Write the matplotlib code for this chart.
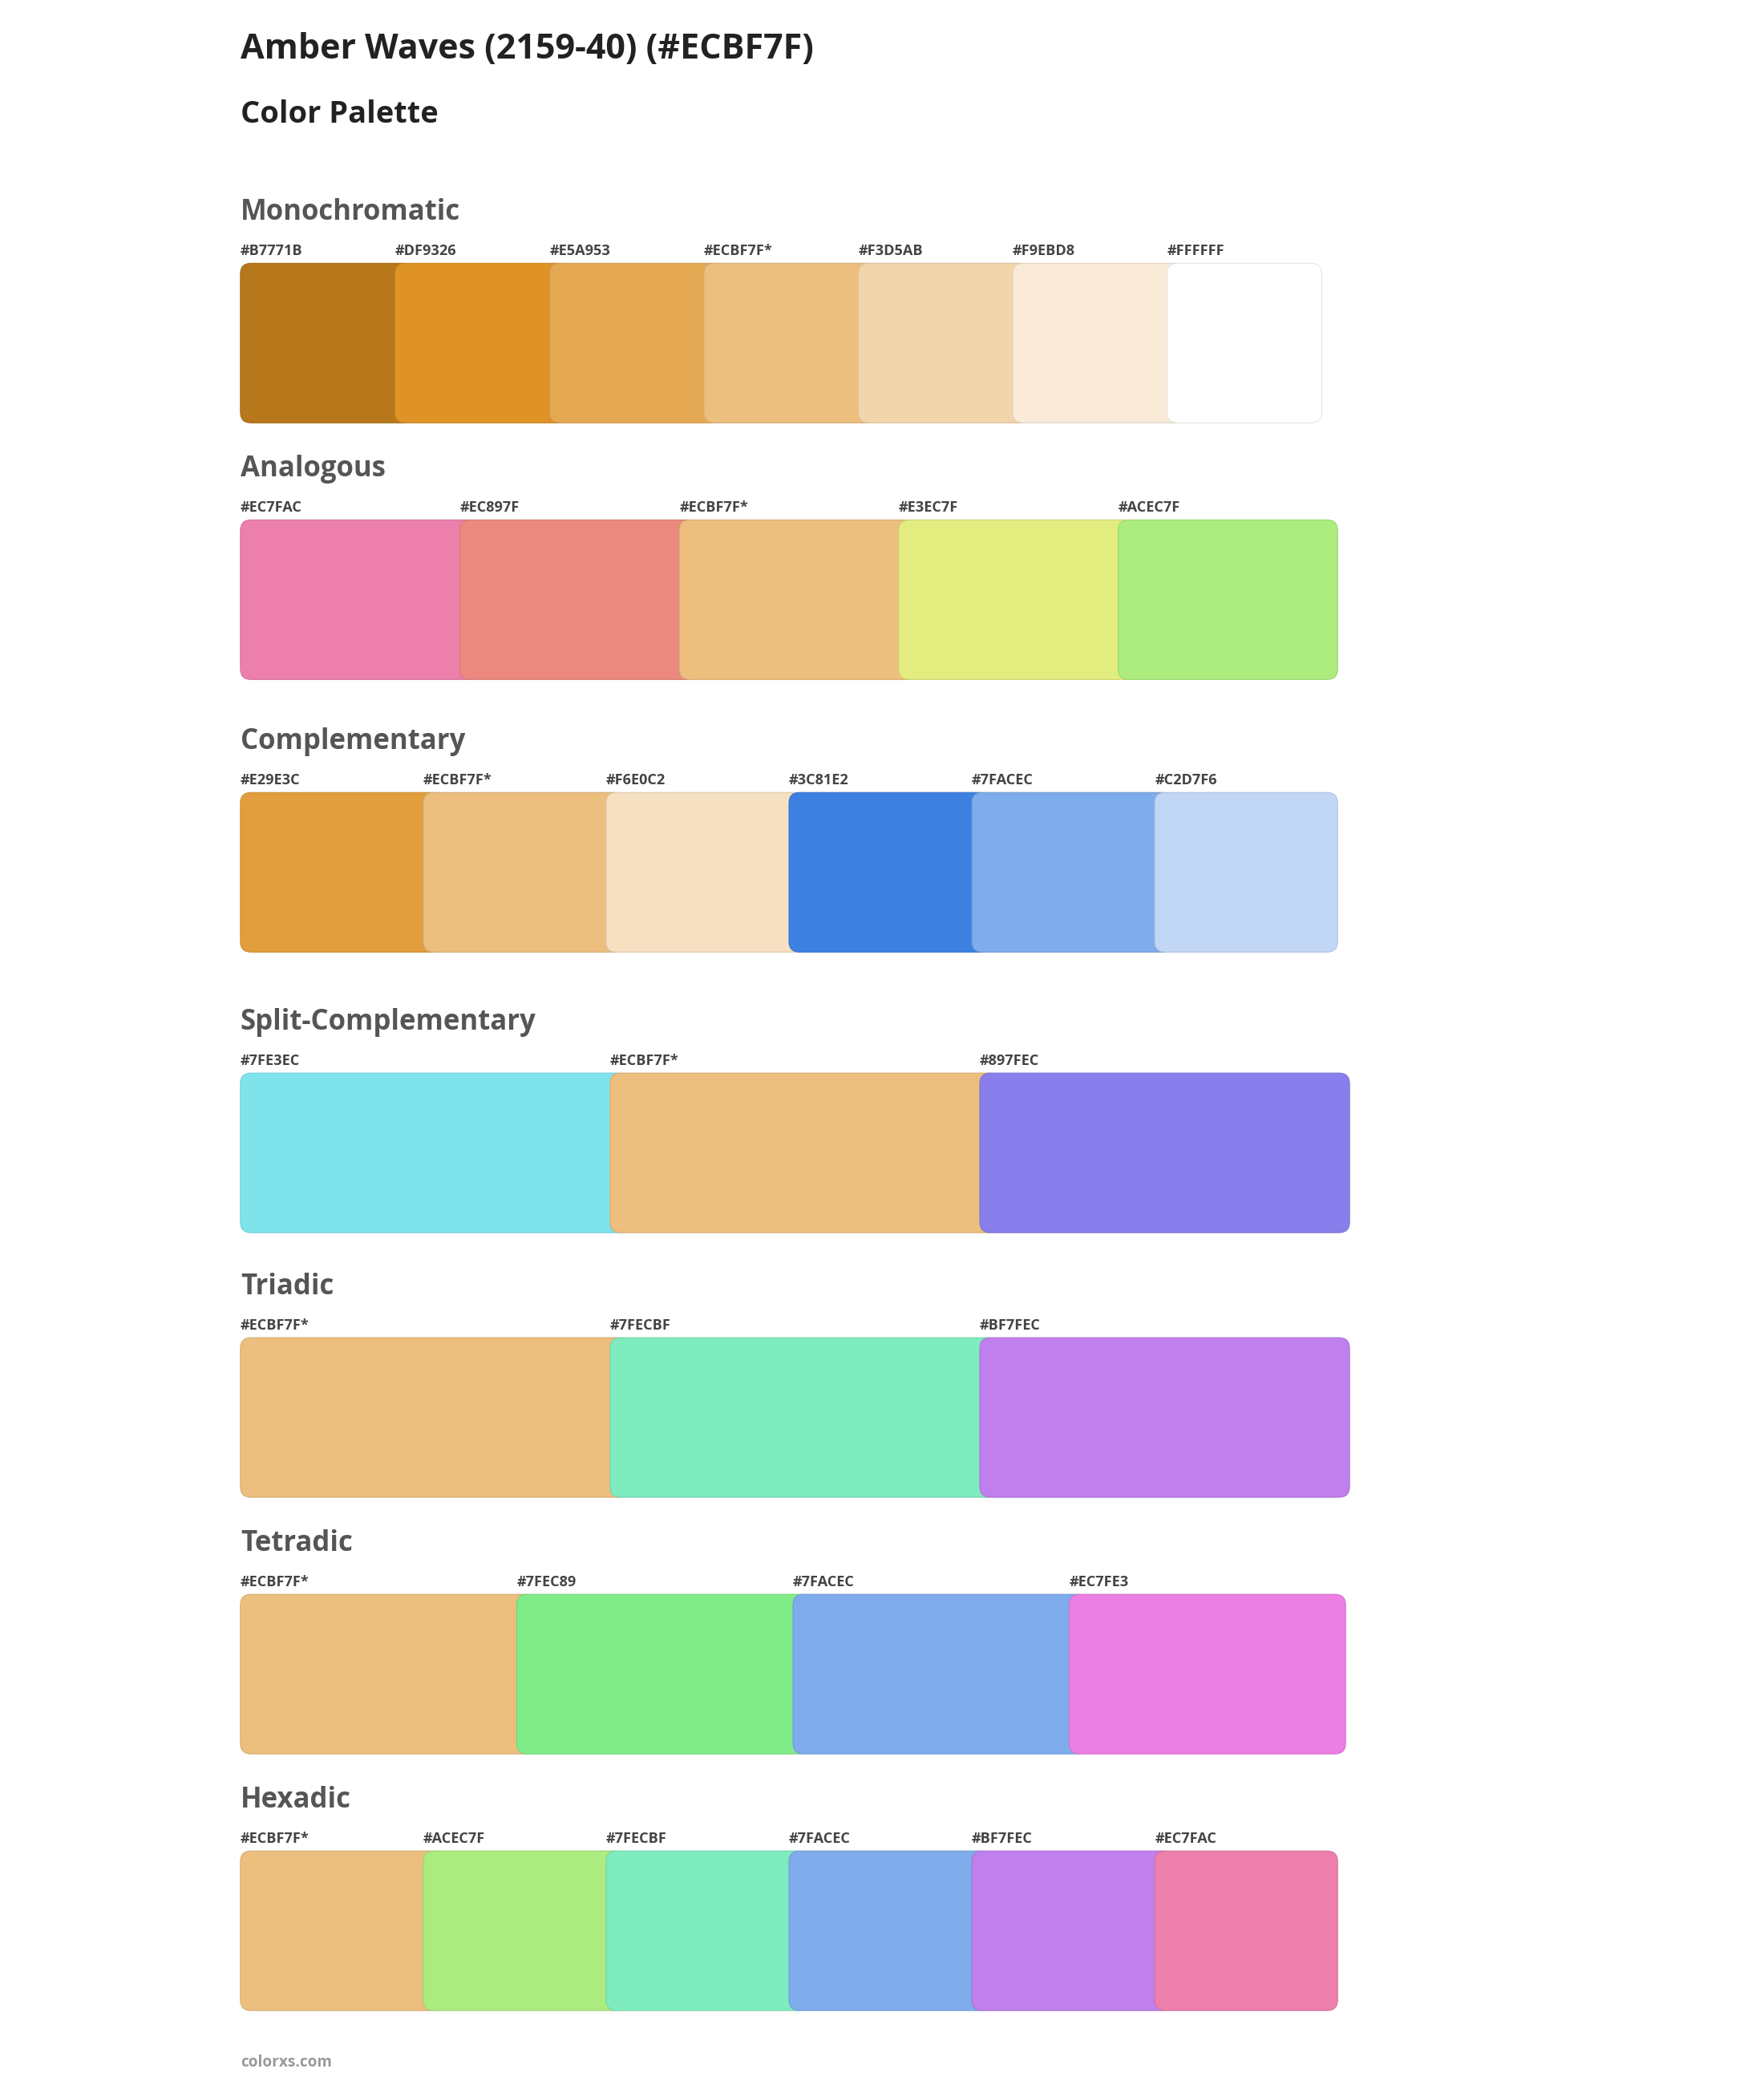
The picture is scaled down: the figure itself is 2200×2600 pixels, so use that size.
import matplotlib
matplotlib.use("Agg")
from matplotlib import pyplot as plt
from matplotlib.patches import FancyBboxPatch
import matplotlib.colors as mc

W, H = 1328, 1568
title = "Amber Waves (2159-40) (#ECBF7F)"
subtitle = "Color Palette"

mono = ["#B7771B", "#DF9326", "#E5A953", "#ECBF7F", "#F3D5AB", "#F9EBD8", "#FFFFFF"]
analog = ["#EC7FAC", "#EC897F", "#ECBF7F", "#E3EC7F", "#ACEC7F"]
compl = ["#E29E3C", "#ECBF7F", "#F6E0C2", "#3C81E2", "#7FACEC", "#C2D7F6"]
split = ["#7FE3EC", "#ECBF7F", "#897FEC"]
triad = ["#ECBF7F", "#7FECBF", "#BF7FEC"]
tetra = ["#ECBF7F", "#7FEC89", "#7FACEC", "#EC7FE3"]
hexa = ["#ECBF7F", "#ACEC7F", "#7FECBF", "#7FACEC", "#BF7FEC", "#EC7FAC"]

# name, colours, title y, swatch top, right end
sections = [
    ("Monochromatic", mono, 160, 198, 995),
    ("Analogous", analog, 353, 391, 1007),
    ("Complementary", compl, 558, 596, 1007),
    ("Split-Complementary", split, 769, 807, 1016),
    ("Triadic", triad, 968, 1006, 1016),
    ("Tetradic", tetra, 1161, 1199, 1013),
    ("Hexadic", hexa, 1354, 1392, 1007),
]

plt.rcParams['font.family'] = ['Open Sans', 'DejaVu Sans']
fig = plt.figure(figsize=(22, 26), dpi=100)
ax = fig.add_axes([0, 0, 1, 1])
ax.set_xlim(0, W)
ax.set_ylim(H, 0)
ax.axis('off')

k = 1.19  # ref px -> pt
x0 = 181
ax.text(x0, 37, title, fontsize=26 * k, fontweight='bold', color='#222222', va='center')
ax.text(x0, 86, subtitle, fontsize=23 * k, fontweight='bold', color='#222222', va='center')

for name, cols, ty, top, right in sections:
    ax.text(x0, ty, name, fontsize=21 * k, fontweight='bold', color='#555555', va='center')
    n = len(cols)
    step = (right - x0) / n
    for i, c in enumerate(cols):
        left = x0 + i * step
        w = right - left if i == n - 1 else step + 14
        edge = tuple(v * 0.9 for v in mc.to_rgb(c))
        ax.add_patch(FancyBboxPatch((left, top), w, 120,
                                    boxstyle="round,pad=0,rounding_size=8",
                                    facecolor=c, edgecolor=edge, linewidth=0.8))
        lab = c + ("*" if c == "#ECBF7F" else "")
        ax.text(left, top - 9, lab, fontsize=11 * k, fontweight='bold',
                color='#444444', va='center')

ax.text(x0, 1551, "colorxs.com", fontsize=11.5 * k, fontweight='bold', color='#999999', va='center')

fig.savefig("out.png", dpi=100, facecolor='white')
